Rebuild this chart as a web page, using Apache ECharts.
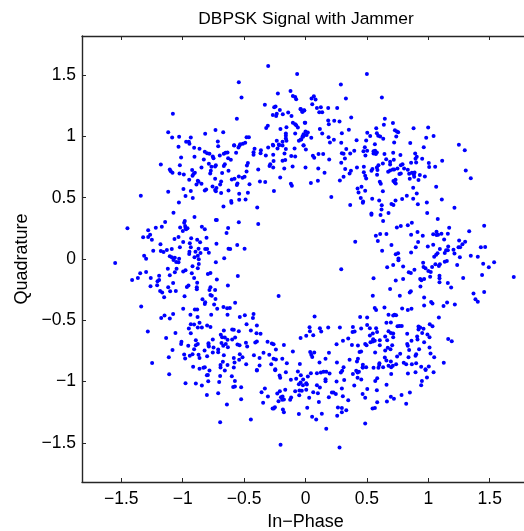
<!DOCTYPE html>
<html>
<head>
<meta charset="utf-8">
<style>
  html, body { margin: 0; padding: 0; background: #fff; }
  #chart { width: 524px; height: 531px; }
</style>
<script src="https://cdn.jsdelivr.net/npm/echarts@6/dist/echarts.min.js"></script>
</head>
<body>
<div id="chart"></div>
<script>
// [in-phase, quadrature], one list per region
const topLeft = [[-.304,1.576],[-.068,1.51],[-.543,1.443],[-.521,1.318],[-.225,1.35],[-.122,1.372],[-.103,1.331],[-.084,1.323],[-.076,1.304],[-.331,1.258],[-.255,1.239],[-.244,1.244],[-.209,1.217],[-.041,1.225],[-.027,1.201],[-.011,1.214],[-.141,1.195],[-.266,1.176],[-.234,1.185],[-.239,1.168],[-.185,1.182],[-.114,1.168],[-1.08,1.185],[-.559,1.144],[-.103,1.111],[-.084,1.1],[-.076,1.092],[-.006,1.111],[-.307,1.087],[-.32,1.07],[-.155,1.076],[-.204,1.062],[-.062,1.073],[-.733,1.052],[-1.118,1.035],[-.67,1.035],[-.817,1.022],[0,1.04],[.019,1.032],[-.016,1.019],[-.16,1.024],[-.16,1.005],[-.084,1.024],[-1.086,.992],[-1.029,.997],[-.934,.992],[-.48,.994],[-.461,.994],[-.02,.997],[-.035,.975],[-.054,.965],[-.16,.984],[-.234,.965],[-.187,.956],[-.155,.965],[-.972,.956],[-.95,.956],[-.945,.94],[-.714,.959],[-.491,.948],[-.51,.94],[-.532,.937],[-.581,.929],[-.266,.932],[-.217,.935]];
const topRight = [[.5,1.51],[.288,1.424],[.329,1.31],[.622,1.318],[.049,1.31],[.068,1.329],[.082,1.301],[.055,1.263],[.093,1.233],[.125,1.239],[.185,1.233],[.258,1.233],[.112,1.198],[.136,1.198],[-.038,1.223],[-.024,1.201],[-.01,1.212],[.372,1.155],[.185,1.13],[.234,1.128],[.277,1.122],[.19,1.1],[-.002,1.111],[.646,1.144],[.712,1.109],[.638,1.095],[.88,1.068],[.999,1.073],[.576,1.068],[.728,1.051],[.744,1.041],[.755,1.035],[.117,1.062],[.136,1.024],[.353,1.054],[.296,1.027],[.503,1.03],[.581,1.027],[.527,1.003],[.592,1.005],[.608,1],[.739,1],[.009,1.013],[-.01,1.013],[-.024,1],[.047,.989],[.188,.994],[.983,.989],[1.043,1.003],[-.038,.975],[.231,.973],[.416,.97],[.494,.967],[.633,.981],[.199,.951],[.291,.948],[.722,.951],[.853,.946],[.565,.937],[-.016,.929],[1.249,.932]];
const upperLeft = [[-1.034,.916],[-.907,.908],[-.863,.899],[-.711,.921],[-.581,.927],[-.546,.91],[-.537,.927],[-.565,.867],[-.82,.875],[-.801,.864],[-.782,.859],[-.755,.837],[-.749,.823],[-.904,.834],[-1.013,.829],[-.698,.845],[-.665,.859],[-.651,.867],[-.635,.869],[-.63,.823],[-.608,.81],[-.828,.812],[-.787,.777],[-.766,.753],[-.73,.766],[-.736,.755],[-.657,.774],[-.665,.758],[-1.178,.772],[-1.023,.766],[-.847,.747],[-1.105,.731],[-1.097,.717],[-1.083,.704],[-1.026,.698],[-.991,.69],[-.923,.726],[-.901,.704],[-.912,.693],[-.92,.679],[-.771,.72],[-.776,.698],[-.679,.701],[-.627,.72],[-.543,.674],[-.736,.655],[-.947,.647],[-.877,.639],[-.871,.63],[-.888,.609],[-.847,.614],[-.687,.633],[-.695,.609],[-.6,.649],[-.578,.655],[-.554,.617],[-.559,.603],[-.757,.592],[-.725,.579],[-.736,.563],[-.73,.552],[-.809,.568],[-.82,.56],[-.994,.571],[-.934,.554],[-1.118,.549],[-.627,.56],[-.687,.538],[-.54,.533],[-1.341,.516],[-.977,.514],[-.918,.497],[-.54,.484],[-1.031,.462],[-.605,.473],[-.603,.459],[-.668,.429],[-1.075,.378],[-.904,.342],[-.73,.318],[-.722,.318],[-.983,.31],[-.988,.296],[-.543,.299],[-1.143,.302],[-1.17,.264],[-1.219,.256],[-1.45,.25],[-1.021,.258],[-.98,.269],[-.977,.253],[-.961,.25],[-.972,.242],[-.999,.228],[-.844,.264],[-.82,.242],[-.63,.253],[-.643,.212],[-1.281,.234],[-1.265,.198],[-1.281,.179],[-1.322,.177],[-1.251,.158],[-1.034,.179],[-1.067,.163],[-.931,.169],[-.806,.174],[-.882,.158],[-.858,.136],[-.996,.139],[-1.181,.12],[-1.023,.095],[-.942,.128],[-.934,.095],[-.725,.125],[-.556,.114],[-1.24,.068],[-1.178,.065],[-1.156,.057],[-1.129,.073],[-1.089,.082],[-.871,.084],[-.896,.06],[-.945,.06],[-.947,.041],[-.817,.082],[-.801,.082],[-.855,.049],[-.787,.052],[-.627,.084],[-.613,.082],[-1.314,.027],[-1.298,.003],[-1.105,.022],[-1.089,.014],[-1.064,.011],[-1.029,.003],[-.904,.014],[-.877,.027],[-.869,-.003],[-.662,.006]];
const lowerLeft = [[-1.55,-.032],[-1.075,-.008],[-1.053,-.024],[-1.034,-.027],[-.73,-.027],[-.869,-.041],[-.92,-.06],[-1.121,-.079],[-1.05,-.079],[-.877,-.076],[-.977,-.092],[-.996,-.103],[-1.064,-.109],[-1.298,-.106],[-1.346,-.117],[-1.192,-.136],[-1.105,-.133],[-.926,-.117],[-.795,-.122],[-.774,-.114],[-.907,-.155],[-1.26,-.155],[-1.365,-.155],[-1.412,-.171],[-1.192,-.171],[-1.205,-.182],[-1.078,-.195],[-.882,-.193],[-.722,-.168],[-.551,-.138],[-1.262,-.223],[-1.208,-.214],[-1.118,-.231],[-.953,-.217],[-.966,-.228],[-.885,-.231],[-.885,-.247],[-.774,-.231],[-.782,-.252],[-.736,-.252],[-.632,-.217],[-1.184,-.261],[-1.167,-.274],[-1.102,-.263],[-1.056,-.261],[-1.151,-.312],[-.985,-.304],[-.774,-.293],[-.763,-.299],[-.733,-.326],[-.839,-.329],[-.817,-.353],[-.82,-.367],[-.744,-.372],[-.573,-.358],[-1.338,-.388],[-.668,-.391],[-.638,-.402],[-.616,-.399],[-.719,-.407],[-.996,-.407],[-.901,-.413],[-.882,-.413],[-.937,-.454],[-.768,-.456],[-.635,-.456],[-1.148,-.462],[-1.078,-.448],[-1.175,-.481],[-1.105,-.486],[-.879,-.473],[-.535,-.473],[-.863,-.521],[-.934,-.532],[-.907,-.535],[-.801,-.543],[-.774,-.554],[-.95,-.568],[-.877,-.56],[-.844,-.56],[-1.284,-.592],[-1.059,-.603],[-.934,-.606],[-.665,-.584],[-.597,-.576],[-.584,-.578],[-.543,-.59],[-.69,-.619],[-.679,-.638],[-.657,-.641],[-.635,-.66],[-.573,-.641],[-.597,-.657],[-1.135,-.644],[-.755,-.657],[-.893,-.663],[-1.01,-.676],[-1.013,-.693],[-.877,-.693],[-.893,-.704],[-.955,-.709],[-.79,-.687],[-.79,-.701],[-.787,-.714],[-.749,-.722],[-.684,-.685],[-.67,-.709],[-.649,-.693],[-.632,-.72],[-.554,-.698],[-.537,-.704],[-1.083,-.742],[-.907,-.736],[-.822,-.747],[-.711,-.739],[-.711,-.761],[-.755,-.763],[-.988,-.78],[-.92,-.777],[-.942,-.79],[-.871,-.782],[-.801,-.793],[-.863,-.807],[-1.113,-.801],[-.98,-.812],[-.665,-.785],[-.584,-.807],[-.535,-.777],[-.54,-.823],[-.673,-.839],[-1.249,-.848],[-.578,-.845],[-.692,-.866],[-.692,-.885],[-.635,-.866],[-.584,-.885],[-.915,-.88],[-.863,-.896],[-.831,-.888],[-.82,-.883]];
const bottomLeft = [[-1.11,-.94],[-.977,-1.014],[-.893,-1.016],[-.844,-1.033],[-.792,-.997],[-.803,-.948],[-.795,-.946],[-.782,-.91],[-.695,-.954],[-.703,-1.003],[-.657,-.91],[-.6,-.957],[-.575,-.995],[-.589,-1.044],[-.575,-1.041],[-.524,-1.046],[-.803,-1.109],[-.711,-1.095],[-.524,-1.144],[-.64,-1.187],[-.695,-1.332],[-.445,-1.31],[-.396,-.91],[-.247,-.908],[-.211,-.951],[-.206,-.97],[-.16,-.924],[-.062,-.919],[-.038,-.948],[-.119,-.986],[-.076,-.978],[-.019,-.984],[.019,-.959],[.044,-.932],[.093,-.932],[-.04,-1.008],[-.054,-1.022],[-.021,-1.03],[.006,-1.014],[.011,-1.024],[.093,-1.03],[.117,-1.049],[-.331,-1.057],[-.358,-1.087],[-.306,-1.122],[-.345,-1.174],[-.23,-1.098],[-.209,-1.079],[-.165,-1.068],[-.22,-1.16],[-.2,-1.128],[-.187,-1.122],[-.176,-1.147],[-.19,-1.149],[-.117,-1.13],[-.125,-1.149],[-.084,-1.079],[-.049,-1.073],[-.03,-1.076],[-.051,-1.111],[.006,-1.068],[.03,-1.133],[.063,-1.087],[.101,-1.095],[.109,-1.168],[.014,-1.215],[-.268,-1.22],[-.258,-1.22],[-.249,-1.209],[-.184,-1.228],[-.176,-1.25],[-.054,-1.266],[.054,-1.288],[.087,-1.31],[-.203,-1.516]];
const bottomRight = [[.196,-.935],[.125,-.927],[.147,-.921],[.169,-.921],[.163,-.981],[.163,-.997],[.253,-1],[.296,-1.057],[.315,-.987],[.288,-.927],[.299,-.913],[.386,-.938],[.413,-.913],[.424,-.927],[.435,-.921],[.424,-.97],[.454,-.984],[.397,-1.033],[.568,-.995],[.584,-.973],[.698,-.938],[.834,-.935],[.896,-.924],[1.043,-.924],[.989,-.967],[.948,-.995],[.942,-1.03],[.978,-.905],[.66,-1.027],[.503,-1.06],[.581,-1.071],[.465,-1.101],[.486,-1.133],[.215,-1.09],[.228,-1.09],[.247,-1.101],[.19,-1.128],[.304,-1.12],[.348,-1.152],[.584,-1.169],[.663,-1.163],[.695,-1.125],[.72,-1.141],[.782,-1.109],[.85,-1.09],[.82,-1.182],[.546,-1.22],[.565,-1.217],[.264,-1.212],[.296,-1.217],[.332,-1.234],[.296,-1.25],[.258,-1.28],[.133,-1.264],[.486,-1.342],[.169,-1.386],[.277,-1.538]];
const lowerRight = [[.665,-.068],[.714,-.049],[.757,-.011],[.795,-.062],[.887,-.087],[.841,-.109],[.858,-.114],[.958,-.03],[.961,-.065],[.977,-.076],[1.031,-.065],[1,-.098],[1.02,-.106],[1.058,-.043],[1.086,-.057],[1.094,-.043],[1.134,-.022],[1.151,-.016],[1.235,-.049],[1.447,-.038],[1.536,-.027],[1.493,-.068],[1.438,-.13],[1.696,-.147],[.554,-.157],[.735,-.176],[.795,-.163],[.934,-.163],[.944,-.174],[.966,-.163],[1.015,-.144],[1.091,-.136],[1.091,-.157],[1.091,-.19],[1.159,-.195],[1.186,-.233],[1.284,-.155],[.936,-.225],[.689,-.244],[.858,-.263],[.849,-.274],[.548,-.299],[.768,-.299],[.966,-.315],[1.368,-.282],[1.455,-.269],[1.384,-.329],[1.403,-.348],[1.023,-.35],[1.034,-.364],[1.153,-.356],[1.216,-.372],[1.124,-.383],[.966,-.38],[.564,-.399],[.575,-.416],[.643,-.396],[.787,-.405],[.833,-.416],[.863,-.407],[.676,-.454],[.714,-.462],[.725,-.454],[.738,-.459],[.445,-.473],[.502,-.478],[1.086,-.478],[.659,-.521],[.695,-.519],[.502,-.538],[.749,-.549],[.765,-.546],[.784,-.546],[1.012,-.532],[1.034,-.549],[.92,-.551],[.934,-.56],[.92,-.576],[.961,-.57],[.453,-.568],[.524,-.565],[.575,-.565],[.583,-.595],[.548,-.608],[.524,-.625],[.676,-.589],[.695,-.603],[.714,-.608],[.714,-.638],[.649,-.633],[.828,-.611],[.909,-.633],[.95,-.603],[.993,-.616],[1.01,-.638],[.912,-.657],[.863,-.668],[.966,-.679],[1.162,-.652],[1.191,-.671],[.551,-.655],[.564,-.668],[.529,-.679],[.548,-.674],[.486,-.693],[.497,-.703],[.605,-.663],[.665,-.663],[.605,-.703],[.706,-.703],[.828,-.693],[.833,-.709],[.844,-.742],[.925,-.736],[1.01,-.722],[.67,-.725],[.692,-.736],[.649,-.747],[.453,-.755],[.567,-.763],[1.018,-.771],[.771,-.774],[.746,-.796],[.839,-.801],[.896,-.79],[.901,-.777],[1.048,-.801],[.646,-.804],[.659,-.828],[.695,-.836],[.602,-.85],[.6,-.866],[.467,-.864],[.467,-.885],[.494,-.883],[.554,-.888],[.594,-.888],[.632,-.883],[.676,-.872],[.698,-.883],[.711,-.872],[.738,-.858],[.8,-.847],[.82,-.858],[.866,-.858],[.901,-.85],[.942,-.88],[.977,-.899],[1.004,-.877],[1.126,-.847]];
const upperRight = [[.963,.913],[1.297,.888],[.483,.913],[.472,.88],[.502,.883],[.488,.845],[.554,.88],[.567,.883],[.581,.869],[.554,.861],[.573,.856],[.643,.856],[.714,.867],[.773,.848],[.893,.861],[.906,.834],[.896,.818],[.95,.818],[.657,.815],[.719,.81],[.689,.793],[.689,.772],[.63,.78],[.594,.766],[.581,.747],[.475,.753],[.545,.734],[.537,.72],[.586,.726],[.475,.709],[.583,.687],[.486,.679],[.494,.658],[.673,.712],[.689,.723],[.711,.731],[.722,.731],[.749,.739],[.776,.766],[.79,.774],[.803,.739],[.833,.728],[.86,.785],[.901,.788],[1.004,.783],[1.007,.75],[1.056,.753],[1.113,.802],[.776,.698],[.765,.693],[.844,.696],[.866,.704],[.888,.706],[.882,.69],[.885,.671],[.849,.655],[.931,.685],[.972,.674],[.92,.644],[1.305,.723],[1.346,.66],[.605,.63],[.613,.614],[.716,.636],[.733,.647],[.727,.625],[.735,.617],[.456,.59],[1.064,.59],[.877,.582],[.486,.557],[.63,.552],[.906,.535],[.825,.516],[.45,.497],[.543,.492],[.6,.478],[.469,.47],[.467,.459],[.787,.489],[.877,.492],[1.11,.486],[.733,.478],[.7,.448],[.716,.44],[.621,.438],[.915,.446],[.988,.462],[.619,.405],[1.213,.419],[.537,.372],[.537,.361],[.611,.359],[.676,.375],[.991,.375],[.632,.31],[1.077,.326],[.866,.296],[.833,.275],[.776,.269],[.744,.258],[1.455,.272],[1.17,.255],[1.333,.226],[.912,.22],[.86,.198],[.955,.19],[.608,.204],[.659,.204],[.573,.19],[.589,.147],[1.04,.201],[1.067,.223],[1.067,.196],[1.08,.198],[1.107,.207],[1.159,.207],[1.129,.16],[1.251,.152],[1.3,.141],[1.278,.12],[1.246,.095],[1.259,.095],[.917,.139],[.996,.101],[1.04,.117],[1.094,.082],[1.162,.101],[1.145,.071],[1.159,.071],[1.205,.076],[.898,.095],[.7,.114],[.624,.068],[.754,.046],[.735,.038],[.86,.054],[1.075,.046],[1.064,.035],[1.048,.019],[1.134,.049],[1.213,.044],[1.257,.014],[1.346,.027],[1.403,.019],[1.428,.095],[1.463,.098],[.757,.005]];
const centerTop = [[-.415,.899],[-.423,.872],[-.423,.85],[-.363,.888],[-.366,.864],[-.323,.845],[-.304,.91],[-.263,.927],[-.263,.85],[-.228,.902],[-.214,.929],[-.187,.927],[-.16,.897],[-.171,.861],[-.116,.84],[-.084,.837],[-.089,.902],[-.016,.927],[.003,.894],[-.26,.799],[-.187,.802],[-.165,.807],[-.287,.774],[-.293,.758],[-.263,.747],[-.173,.739],[-.105,.755],[0,.747],[-.385,.731],[-.477,.764],[-.469,.783],[-.48,.715],[-.496,.671],[-.513,.663],[-.456,.611],[-.206,.666],[-.371,.633],[-.328,.628],[-.119,.614],[-.111,.598],[-.257,.554],[.044,.62],[.101,.639],[.104,.739],[.155,.704],[.06,.842],[.071,.826],[.106,.856],[.144,.856],[.193,.812],[.296,.864],[.31,.859],[.291,.785],[.321,.821],[.332,.897],[.364,.861],[.397,.883],[.323,.734],[.359,.698],[.37,.72],[.419,.747],[.31,.671],[.28,.641],[.21,.505],[.364,.44],[.424,.576],[.432,.543],[-.469,.541],[-.488,.486],[-.393,.421],[-.385,.285],[.405,.141],[-.496,.084]];
const centerBottom = [[.291,-.084],[-.219,-.301],[.074,-.47],[-.494,-.459],[-.423,-.448],[-.428,-.481],[-.48,-.532],[-.396,-.543],[-.445,-.584],[-.399,-.606],[-.366,-.611],[.033,-.557],[.036,-.589],[.063,-.622],[.006,-.627],[-.04,-.644],[.117,-.565],[.128,-.592],[.185,-.56],[.28,-.56],[.386,-.554],[.4,-.592],[.383,-.595],[.348,-.649],[.305,-.668],[.253,-.695],[.378,-.701],[.427,-.706],[.44,-.758],[-.309,-.676],[-.274,-.69],[-.26,-.695],[-.396,-.674],[-.409,-.682],[-.485,-.684],[-.475,-.714],[-.176,-.701],[-.241,-.739],[-.103,-.755],[.038,-.758],[.071,-.763],[.047,-.782],[.055,-.799],[.191,-.766],[-.342,-.766],[-.295,-.782],[-.42,-.785],[-.513,-.801],[-.374,-.809],[-.26,-.815],[-.241,-.82],[-.189,-.815],[.114,-.845],[.163,-.815],[.256,-.845],[.359,-.823],[.427,-.815],[.419,-.837],[-.152,-.85],[-.046,-.856],[-.483,-.858],[-.279,-.858],[-.374,-.869],[.31,-.883],[-.396,-.905],[-.246,-.899],[.465,-.885]];

const xTicks = [-1.5, -1, -0.5, 0, 0.5, 1, 1.5];
const yTicks = [-1.5, -1, -0.5, 0, 0.5, 1, 1.5];
const axisLimit = 1.82;

const samples = [].concat(topLeft, topRight, upperLeft, lowerLeft, bottomLeft, bottomRight, lowerRight, upperRight, centerTop, centerBottom);

const chart = echarts.init(document.getElementById('chart'), null, { renderer: 'canvas' });

const fontFamily = '"Liberation Sans", Arial, sans-serif';

// matlab style labels, with a real minus sign
function tickText(v) {
  return String(v).replace('-', '\u2212');
}

function makeAxis(position, ticks, showLabels, labelMargin, extra) {
  return Object.assign({
    type: 'value',
    position: position,
    min: -axisLimit,
    max: axisLimit,
    scale: true,
    splitLine: { show: false },
    axisLine: { show: true, onZero: false, lineStyle: { color: '#262626', width: 1.4 } },
    axisTick: {
      show: true,
      inside: true,
      length: 4,
      customValues: ticks,
      lineStyle: { color: '#262626', width: 1 }
    },
    axisLabel: {
      show: showLabels,
      customValues: ticks,
      formatter: tickText,
      color: '#000',
      fontFamily: fontFamily,
      fontSize: 17.5,
      margin: labelMargin
    }
  }, extra || {});
}

chart.setOption({
  animation: false,
  backgroundColor: '#fff',
  title: {
    text: 'DBPSK Signal with Jammer',
    left: 301,
    top: 6,
    textAlign: 'center',
    textStyle: { color: '#000', fontFamily: fontFamily, fontSize: 17.4, fontWeight: 'normal' }
  },
  // the plot runs past the right edge of the window, so keep echarts from shrinking it
  grid: { left: 82, top: 36, width: 447, height: 446, outerBoundsMode: 'none', containLabel: false },
  xAxis: [
    makeAxis('bottom', xTicks, true, 8, {
      name: 'In\u2212Phase',
      nameLocation: 'middle',
      nameGap: 29,
      nameTextStyle: { color: '#000', fontFamily: fontFamily, fontSize: 18 }
    }),
    makeAxis('top', xTicks, false, 8)
  ],
  yAxis: [
    makeAxis('left', yTicks, true, 6, {
      name: 'Quadrature',
      nameLocation: 'middle',
      nameGap: 50,
      nameTextStyle: { color: '#000', fontFamily: fontFamily, fontSize: 18 }
    }),
    makeAxis('right', yTicks, false, 6)
  ],
  series: [{
    type: 'scatter',
    data: samples,
    symbol: 'circle',
    symbolSize: 4,
    itemStyle: { color: '#0000ff', opacity: 1 }
  }]
});
</script>
</body>
</html>
